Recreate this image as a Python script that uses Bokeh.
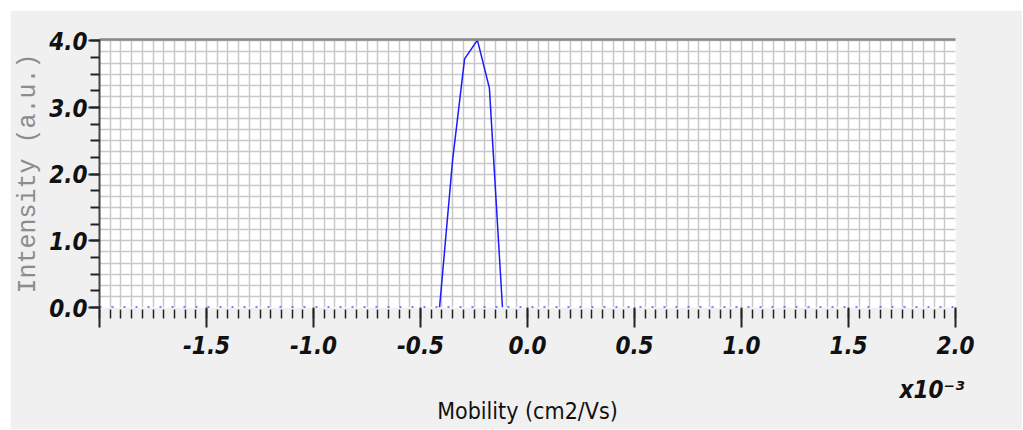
import numpy as np
from bokeh.plotting import figure
from bokeh.models import (Range1d, FixedTicker, LinearAxis, Span,
                          PrintfTickFormatter)
from bokeh.embed import file_html
from bokeh.resources import INLINE

# Data (mobility in units of 1e-3 cm2/Vs, intensity in a.u.)
mobility = [-0.411, -0.350, -0.294, -0.234, -0.178, -0.117]
intensity = [0.0, 2.21, 3.73, 4.01, 3.29, 0.0]

x_major = [-2.0, -1.5, -1.0, -0.5, 0.0, 0.5, 1.0, 1.5, 2.0]
y_major = [0.0, 1.0, 2.0, 3.0, 4.0]

x_title = "Mobility (cm2/Vs)"
y_title = "Intensity (a.u.)"
x_scale_note = "x10\u207b\u00b3"
x_scale_note_pos = 1.89

TICK_FONT = "'DejaVu Sans Condensed', 'Liberation Sans', sans-serif"

p = figure(width=1012, height=419, output_backend="svg", toolbar_location=None,
           x_range=Range1d(-2.0, 2.0), y_range=Range1d(0, 4.02),
           x_axis_location="below", y_axis_location="left",
           min_border_left=89, min_border_right=67, min_border_top=29,
           min_border_bottom=122)
p.margin = (10, 0, 0, 10)
p.background_fill_color = "white"
p.border_fill_color = "#f0f0f0"
p.outline_line_color = None

# grids
xg = np.round(np.arange(-2.0, 2.0001, 0.05), 4).tolist()
yg = np.round(np.arange(0, 4.0001, 1 / 6), 4).tolist()
p.xgrid.ticker = FixedTicker(ticks=xg)
p.ygrid.ticker = FixedTicker(ticks=yg)
for g in (p.xgrid, p.ygrid):
    g.grid_line_color = "#c8c8c8"
    g.grid_line_width = 1.5

# x axis
xa = p.xaxis[0]
xa.ticker = FixedTicker(ticks=x_major, minor_ticks=xg)
xa.formatter = PrintfTickFormatter(format="%.1f")
xa.major_label_overrides = {-2.0: ""}
xa.axis_line_color = None
xa.major_tick_in = 0
xa.major_tick_out = 20
xa.minor_tick_in = -2
xa.minor_tick_out = 11
xa.major_tick_line_color = "#222222"
xa.minor_tick_line_color = "#222222"
xa.major_tick_line_width = 2
xa.minor_tick_line_width = 1.5
xa.major_label_standoff = 8
xa.major_label_text_font = TICK_FONT
xa.major_label_text_font_style = "bold italic"
xa.major_label_text_font_size = "24px"
xa.major_label_text_color = "#111111"

# second x axis carrying the scale note and the axis title
xb = LinearAxis(ticker=FixedTicker(ticks=[x_scale_note_pos], minor_ticks=[]),
                major_label_overrides={x_scale_note_pos: x_scale_note},
                axis_line_color=None, major_tick_in=0, major_tick_out=0,
                minor_tick_in=0, minor_tick_out=0,
                major_label_standoff=19,
                major_label_text_font=TICK_FONT,
                major_label_text_font_style="bold italic",
                major_label_text_font_size="24px",
                major_label_text_color="#111111",
                axis_label=x_title, axis_label_standoff=-9,
                axis_label_text_font=TICK_FONT,
                axis_label_text_font_style="normal",
                axis_label_text_font_size="23px",
                axis_label_text_color="#111111")
p.add_layout(xb, "below")

# y axis
ya = p.yaxis[0]
ya.ticker = FixedTicker(ticks=y_major, minor_ticks=np.arange(0, 4.01, 0.25).tolist())
ya.formatter = PrintfTickFormatter(format="%.1f")
ya.axis_line_color = "#444444"
ya.axis_line_width = 2
ya.major_tick_in = 0
ya.major_tick_out = 11
ya.minor_tick_in = 0
ya.minor_tick_out = 9
ya.major_tick_line_color = "#222222"
ya.minor_tick_line_color = "#222222"
ya.major_tick_line_width = 2
ya.minor_tick_line_width = 2
ya.major_label_standoff = 1
ya.major_label_text_font = TICK_FONT
ya.major_label_text_font_style = "bold italic"
ya.major_label_text_font_size = "24px"
ya.major_label_text_color = "#111111"
ya.axis_label = y_title
ya.axis_label_standoff = 3
ya.axis_label_text_font = "Liberation Mono"
ya.axis_label_text_font_style = "normal"
ya.axis_label_text_font_size = "25px"
ya.axis_label_text_color = "#8c8c8c"

# top border line
top = LinearAxis(ticker=FixedTicker(ticks=[]), axis_line_color="#8a8a8a",
                 axis_line_width=2.5, major_tick_in=0, major_tick_out=0,
                 minor_tick_in=0, minor_tick_out=0,
                 major_label_text_font_size="0px")
p.add_layout(top, "above")

# baseline dots
p.add_layout(Span(location=0, dimension="width", line_color="blue",
                  line_width=2, line_dash="2 10"))

p.line(mobility, intensity, line_color="#1a1aff", line_width=1.5)

open("out.html", "w").write(file_html(p, INLINE))
